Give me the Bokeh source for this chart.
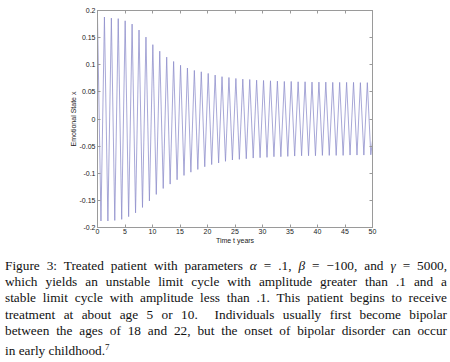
from bokeh.plotting import figure
from bokeh.models import Range1d, LinearAxis, FixedTicker, Div
from bokeh.layouts import column
from bokeh.embed import file_html
from bokeh.resources import INLINE

# Peak (maximum) values and times of each cycle
peak_times = [0.00, 1.26, 2.52, 3.77, 5.03, 6.29, 7.55, 8.81, 10.06, 11.32,
              12.58, 13.84, 15.10, 16.35, 17.61, 18.87, 20.13, 21.39, 22.64, 23.90,
              25.16, 26.42, 27.68, 28.93, 30.19, 31.45, 32.71, 33.97, 35.22, 36.48,
              37.74, 39.00, 40.26, 41.51, 42.77, 44.03, 45.29, 46.55, 47.80, 49.06]
peak_values = [0.188, 0.188, 0.186, 0.185, 0.181, 0.175, 0.164, 0.151, 0.137, 0.125,
               0.114, 0.106, 0.099, 0.094, 0.0895, 0.087, 0.084, 0.081, 0.078, 0.0765,
               0.0747, 0.0735, 0.0728, 0.0716, 0.0710, 0.0704, 0.0698, 0.0692, 0.0692, 0.0686,
               0.0686, 0.0680, 0.0680, 0.0680, 0.0675, 0.0675, 0.0675, 0.0675, 0.0670, 0.0670]
# Trough (minimum) values and times
trough_times = [0.63, 1.89, 3.14, 4.40, 5.66, 6.92, 8.18, 9.44, 10.69, 11.95,
                13.21, 14.47, 15.73, 16.98, 18.24, 19.50, 20.76, 22.02, 23.27, 24.53,
                25.79, 27.05, 28.31, 29.56, 30.82, 32.08, 33.34, 34.60, 35.85, 37.11,
                38.37, 39.63, 40.89, 42.14, 43.40, 44.66, 45.92, 47.18, 48.43, 49.69]
trough_values = [-0.188, -0.188, -0.187, -0.185, -0.180, -0.173, -0.163, -0.151, -0.139, -0.128,
                 -0.120, -0.112, -0.104, -0.098, -0.093, -0.088, -0.084, -0.081, -0.078, -0.0756,
                 -0.0744, -0.0732, -0.0720, -0.0713, -0.0707, -0.0695, -0.0695, -0.0689, -0.0683, -0.0677,
                 -0.0677, -0.0677, -0.0671, -0.0671, -0.0671, -0.0671, -0.0665, -0.0665, -0.0665, -0.0660]
end_time = 50.0
end_value = -0.040

x_ticks = [0, 5, 10, 15, 20, 25, 30, 35, 40, 45, 50]
y_ticks = [-0.2, -0.15, -0.1, -0.05, 0, 0.05, 0.1, 0.15, 0.2]
y_tick_labels = ["-0.2", "-0.15", "-0.1", "-0.05", "0", "0.05", "0.1", "0.15", "0.2"]

caption_lines = [
    "Figure 3: Treated patient with parameters <i>&alpha;</i> = .1, <i>&beta;</i> = &minus;100, and <i>&gamma;</i> = 5000,",
    "which yields an unstable limit cycle with amplitude greater than .1 and a",
    "stable limit cycle with amplitude less than .1. This patient begins to receive",
    "treatment at about age 5 or 10.&nbsp; Individuals usually first become bipolar",
    "between the ages of 18 and 22, but the onset of bipolar disorder can occur",
]
caption_last = "in early childhood.<sup style='font-size:9px'>7</sup>"

xs, ys = [], []
for tp, vp, tt, vt in zip(peak_times, peak_values, trough_times, trough_values):
    xs += [tp, tt]
    ys += [vp, vt]
xs.append(end_time)
ys.append(end_value)

AX = "#9a9a9a"
p = figure(frame_width=275, frame_height=217, x_range=Range1d(0, 50), y_range=Range1d(-0.2, 0.2),
           output_backend="svg", toolbar_location=None,
           min_border_left=97, min_border_right=70, min_border_top=10, min_border_bottom=25)
p.grid.visible = False
p.outline_line_color = AX
p.background_fill_color = "white"
p.border_fill_color = "white"

p.line(xs, ys, line_color="#8c8ccb", line_width=0.85, line_alpha=0.9)

def style(ax):
    ax.axis_line_color = AX
    ax.major_tick_line_color = AX
    ax.minor_tick_line_color = None
    ax.major_tick_in = 3
    ax.major_tick_out = 0
    ax.major_label_text_font = "Liberation Sans"
    ax.major_label_text_font_size = "7px"
    ax.major_label_text_color = "#222222"
    ax.major_label_standoff = 1
    ax.axis_label_text_font = "Liberation Sans"
    ax.axis_label_text_font_size = "7px"
    ax.axis_label_text_font_style = "normal"
    ax.axis_label_text_color = "#222222"
    ax.axis_label_standoff = 0

xax = p.xaxis[0]
xax.ticker = FixedTicker(ticks=x_ticks)
xax.axis_label = "Time t years"
style(xax)
yax = p.yaxis[0]
yax.ticker = FixedTicker(ticks=y_ticks)
yax.major_label_overrides = {t: l for t, l in zip(y_ticks, y_tick_labels)}
yax.axis_label = "Emotional State x"
style(yax)
yax.major_label_standoff = 2
yax.axis_label_standoff = 0

top = LinearAxis(ticker=FixedTicker(ticks=x_ticks))
style(top)
top.major_label_overrides = {t: "" for t in x_ticks}
top.major_label_standoff = 0
p.add_layout(top, "above")
right = LinearAxis(ticker=FixedTicker(ticks=y_ticks))
style(right)
right.major_label_overrides = {t: "" for t in y_ticks}
right.major_label_standoff = 0
p.add_layout(right, "right")

line_style = "text-align:justify;text-align-last:justify;white-space:nowrap;"
html = "<div style=\"margin-left:0px;width:442px;font-family:'Liberation Serif';font-size:13.3px;line-height:16.2px;color:#111;padding-top:1px;\">"
for ln in caption_lines:
    html += "<div style='" + line_style + "'>" + ln + "</div>"
html += "<div style='text-align:left;white-space:nowrap;'>" + caption_last + "</div>"
html += "</div>"
cap = Div(text=html, width=442, height=100)

layout = column(p, cap, spacing=0)
open("out.html", "w").write(file_html(layout, INLINE))
